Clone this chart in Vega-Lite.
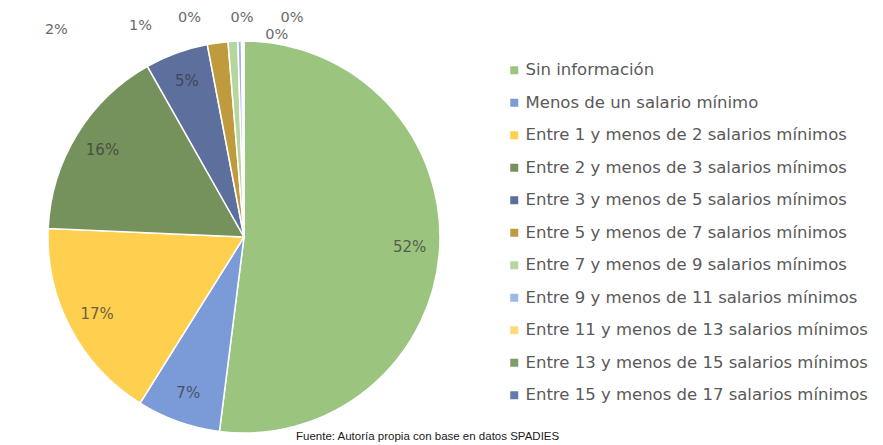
{
  "$schema": "https://vega.github.io/schema/vega-lite/v6.json",
  "width": 488,
  "height": 416,
  "autosize": {"type": "none"},
  "padding": {"left": 0, "top": 29, "right": 395, "bottom": 0},
  "background": "white",
  "config": {"view": {"stroke": null}},
  "title": {"text": "Fuente: Autoría propia con base en datos SPADIES", "orient": "bottom", "anchor": "start", "frame": "group", "offset": -14, "dx": 296, "font": "Liberation Sans", "fontSize": 11.5, "fontWeight": "normal", "color": "#1a1a1a"},
  "data": {"values": [
    {"rank": 1, "category": "Sin información", "share": 0.52},
    {"rank": 2, "category": "Menos de un salario mínimo", "share": 0.069},
    {"rank": 3, "category": "Entre 1 y menos de 2 salarios mínimos", "share": 0.168},
    {"rank": 4, "category": "Entre 2 y menos de 3 salarios mínimos", "share": 0.161},
    {"rank": 5, "category": "Entre 3 y menos de 5 salarios mínimos", "share": 0.052},
    {"rank": 6, "category": "Entre 5 y menos de 7 salarios mínimos", "share": 0.017},
    {"rank": 7, "category": "Entre 7 y menos de 9 salarios mínimos", "share": 0.008},
    {"rank": 8, "category": "Entre 9 y menos de 11 salarios mínimos", "share": 0.003},
    {"rank": 9, "category": "Entre 11 y menos de 13 salarios mínimos", "share": 0.001},
    {"rank": 10, "category": "Entre 13 y menos de 15 salarios mínimos", "share": 0.0005},
    {"rank": 11, "category": "Entre 15 y menos de 17 salarios mínimos", "share": 0.0005}
  ]},
  "encoding": {
    "theta": {"field": "share", "type": "quantitative", "stack": true},
    "order": {"field": "rank", "type": "quantitative", "sort": "ascending"}
  },
  "layer": [
    {
      "mark": {"type": "arc", "outerRadius": 196, "stroke": "white", "strokeWidth": 1.5},
      "encoding": {
        "color": {
          "field": "category", "type": "nominal", "sort": {"field": "rank"},
          "scale": {
            "domain": ["Sin información", "Menos de un salario mínimo", "Entre 1 y menos de 2 salarios mínimos", "Entre 2 y menos de 3 salarios mínimos", "Entre 3 y menos de 5 salarios mínimos", "Entre 5 y menos de 7 salarios mínimos", "Entre 7 y menos de 9 salarios mínimos", "Entre 9 y menos de 11 salarios mínimos", "Entre 11 y menos de 13 salarios mínimos", "Entre 13 y menos de 15 salarios mínimos", "Entre 15 y menos de 17 salarios mínimos"],
            "range": ["#9BC57F", "#7A9BD8", "#FFD04F", "#76925C", "#5D6F9C", "#C09B3D", "#B5D69D", "#9EB7E4", "#FFDB7C", "#7E9E68", "#6479AC"]
          },
          "legend": {
            "title": null, "orient": "none", "legendX": 506, "legendY": 33, "padding": 0,
            "symbolType": "square", "symbolSize": 64, "symbolStrokeWidth": 0,
            "labelFont": "DejaVu Sans", "labelFontSize": 16.5, "labelColor": "#595959",
            "labelOffset": 3, "rowPadding": 15.5, "labelLimit": 400
          }
        }
      }
    },
    {
      "mark": {"type": "text", "radius": 166, "font": "DejaVu Sans", "fontSize": 15, "fill": "#3a3a3a", "opacity": 0.75},
      "encoding": {
        "text": {"condition": {"test": "datum.share >= 0.04", "field": "share", "format": ".0%"}, "value": ""}
      }
    },
    {
      "mark": {"type": "text", "radius": 205, "dx": -160, "dy": -4, "font": "DejaVu Sans", "fontSize": 14.5, "fill": "#6a6a6a"},
      "encoding": {"text": {"condition": {"test": "datum.rank == 6", "field": "share", "format": ".0%"}, "value": ""}}
    },
    {
      "mark": {"type": "text", "radius": 205, "dx": -92, "dy": -6, "font": "DejaVu Sans", "fontSize": 14.5, "fill": "#6a6a6a"},
      "encoding": {"text": {"condition": {"test": "datum.rank == 7", "field": "share", "format": ".0%"}, "value": ""}}
    },
    {
      "mark": {"type": "text", "radius": 205, "dx": -50, "dy": -14, "font": "DejaVu Sans", "fontSize": 14.5, "fill": "#6a6a6a"},
      "encoding": {"text": {"condition": {"test": "datum.rank == 8", "field": "share", "format": ".0%"}, "value": ""}}
    },
    {
      "mark": {"type": "text", "radius": 205, "dx": 0, "dy": -14, "font": "DejaVu Sans", "fontSize": 14.5, "fill": "#6a6a6a"},
      "encoding": {"text": {"condition": {"test": "datum.rank == 9", "field": "share", "format": ".0%"}, "value": ""}}
    },
    {
      "mark": {"type": "text", "radius": 205, "dx": 49, "dy": -14, "font": "DejaVu Sans", "fontSize": 14.5, "fill": "#6a6a6a"},
      "encoding": {"text": {"condition": {"test": "datum.rank == 10", "field": "share", "format": ".0%"}, "value": ""}}
    },
    {
      "mark": {"type": "text", "radius": 205, "dx": 33, "dy": 3, "font": "DejaVu Sans", "fontSize": 14.5, "fill": "#6a6a6a"},
      "encoding": {"text": {"condition": {"test": "datum.rank == 11", "field": "share", "format": ".0%"}, "value": ""}}
    }
  ]
}
